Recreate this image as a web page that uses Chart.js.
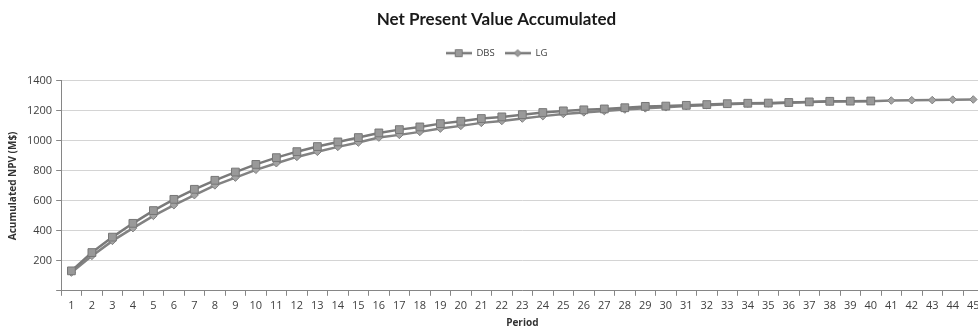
<!DOCTYPE html>
<html>
<head>
<meta charset="utf-8">
<script src="https://cdn.jsdelivr.net/npm/chart.js@4.4.1/dist/chart.umd.min.js"></script>
<style>
  body { margin: 0; overflow: hidden; background: #fff; }
  #wrap { width: 990px; height: 329px; }
</style>
</head>
<body>
<div id="wrap"><canvas id="npvChart" width="990" height="329"></canvas></div>
<script>
// periods 1..45 (chart is cut off on the right, like the original)
const periods = [];
for (let p = 1; p <= 45; p++) periods.push(String(p));

// accumulated NPV (M$)
const dbsValues = [133, 255, 358, 450, 535, 610, 677, 737, 792, 843,
  888, 928, 962, 993, 1022, 1053, 1075, 1093, 1115, 1131,
  1149, 1160, 1175, 1189, 1200, 1207, 1213, 1221, 1230, 1232,
  1237, 1242, 1248, 1251, 1252, 1256, 1260, 1264, 1265, 1266];
const lgValues = [122, 233, 333, 418, 500, 571, 638, 703, 755, 807,
  851, 893, 927, 960, 989, 1022, 1040, 1060, 1082, 1100,
  1120, 1133, 1149, 1165, 1180, 1190, 1199, 1209, 1217, 1224,
  1232, 1238, 1245, 1249, 1250, 1255, 1259, 1263, 1264, 1265,
  1269, 1271, 1272, 1275, 1276];
const yTicks = [0, 200, 400, 600, 800, 1000, 1200, 1400];

const lineGray = '#7a7a7a';

// little "line + marker" icons for the legend, Excel style
function legendIcon(shape) {
  const c = document.createElement('canvas');
  c.width = 26; c.height = 10;
  const g = c.getContext('2d');
  g.strokeStyle = lineGray;
  g.lineWidth = 2.5;
  g.beginPath(); g.moveTo(0, 5); g.lineTo(26, 5); g.stroke();
  g.fillStyle = '#9a9a9a';
  g.lineWidth = 1;
  g.beginPath();
  if (shape === 'rect') {
    g.rect(9.5, 1.5, 7, 7);
  } else {
    g.moveTo(13, 1.5); g.lineTo(16.5, 5); g.lineTo(13, 8.5); g.lineTo(9.5, 5); g.closePath();
  }
  g.fill(); g.stroke();
  return c;
}
const legendIcons = [legendIcon('rect'), legendIcon('diamond')];

// extra room under the legend before the plot starts
const legendGap = {
  id: 'legendGap',
  beforeInit(chart) {
    const fit = chart.legend.fit;
    chart.legend.fit = function () {
      fit.call(this);
      this.height += 13;
    };
  }
};

const ctx = document.getElementById('npvChart').getContext('2d');
new Chart(ctx, {
  type: 'line',
  plugins: [legendGap],
  data: {
    labels: periods,
    datasets: [
      {
        label: 'DBS',
        data: dbsValues,
        borderColor: lineGray,
        borderWidth: 2.5,
        pointStyle: 'rect',
        pointRadius: 5.5,
        pointBackgroundColor: '#999999',
        pointBorderColor: '#777777',
        pointBorderWidth: 1,
        tension: 0
      },
      {
        label: 'LG',
        data: lgValues,
        borderColor: '#828282',
        borderWidth: 2.5,
        pointStyle: 'rectRot',
        pointRadius: 3.8,
        pointBackgroundColor: '#a3a3a3',
        pointBorderColor: '#808080',
        pointBorderWidth: 1,
        tension: 0
      }
    ]
  },
  options: {
    responsive: false,
    animation: false,
    layout: { padding: { left: 7, right: 4, top: 0, bottom: 0 } },
    plugins: {
      title: {
        display: true,
        text: 'Net Present Value Accumulated',
        color: '#1a1a1a',
        font: { family: 'Lato', size: 17, weight: 'bold' },
        padding: { top: 9, bottom: 9 }
      },
      legend: {
        display: true,
        position: 'top',
        labels: {
          usePointStyle: true,
          pointStyleWidth: 26,
          boxHeight: 9,
          padding: 10,
          color: '#404040',
          font: { family: 'Open Sans', size: 9.5 },
          generateLabels(chart) {
            const items = Chart.defaults.plugins.legend.labels.generateLabels(chart);
            items.forEach((it, i) => { it.pointStyle = legendIcons[i]; });
            return items;
          }
        }
      },
      tooltip: { enabled: false }
    },
    scales: {
      x: {
        offset: true,
        grid: {
          offset: true,
          drawOnChartArea: false,
          drawTicks: true,
          tickLength: 5,
          tickColor: '#868686'
        },
        border: { color: '#868686', width: 1 },
        ticks: {
          autoSkip: false,
          maxRotation: 0,
          padding: 3,
          color: '#404040',
          font: { family: 'Open Sans', size: 11 }
        },
        title: {
          display: true,
          text: 'Period',
          color: '#333333',
          font: { family: 'Open Sans', size: 10, weight: 'bold' },
          padding: { top: 2, bottom: 0 }
        }
      },
      y: {
        min: 0,
        max: 1400,
        afterBuildTicks(axis) {
          axis.ticks = yTicks.map(v => ({ value: v }));
        },
        grid: {
          color: '#d4d4d4',
          tickLength: 5,
          tickColor: '#868686'
        },
        border: { color: '#868686', width: 1 },
        ticks: {
          padding: 4,
          color: '#404040',
          font: { family: 'Open Sans', size: 11 },
          callback: v => (v === 0 ? '' : v)
        },
        title: {
          display: true,
          text: 'Acumulated NPV (M$)',
          color: '#333333',
          font: { family: 'Open Sans', size: 10, weight: 'bold' },
          padding: { top: 0, bottom: 4 }
        }
      }
    }
  }
});
</script>
</body>
</html>
